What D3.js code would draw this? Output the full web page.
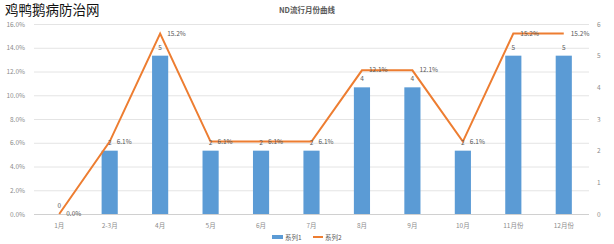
<!DOCTYPE html>
<html>
<head>
<meta charset="utf-8">
<script src="https://cdn.jsdelivr.net/npm/d3@7"></script>
<style>
    body { margin: 0; background: #fff; }
    text { font-family: "Noto Sans CJK SC", "Noto Sans", sans-serif; }
</style>
</head>
<body>
<div id="chart"></div>
<script>
const months = ["1月", "2-3月", "4月", "5月", "6月", "7月", "8月", "9月", "10月", "11月份", "12月份"];
const counts = [0, 2, 5, 2, 2, 2, 4, 4, 2, 5, 5];
const percents = [0, 6.1, 15.2, 6.1, 6.1, 6.1, 12.1, 12.1, 6.1, 15.2, 15.2];
const leftTicks = [0, 2, 4, 6, 8, 10, 12, 14, 16];
const rightTicks = [0, 1, 2, 3, 4, 5, 6];
const seriesNames = ["系列1", "系列2"];

const width = 614, height = 244;
const plotTop = 24, plotBottom = 214, plotLeft = 34, plotRight = 589;

const svg = d3.select("#chart")
    .append("svg")
    .attr("width", width)
    .attr("height", height);

const x = d3.scaleBand()
    .domain(months)
    .range([plotLeft, plotRight])
    .paddingInner(0.68)
    .paddingOuter(0.34);

const yLeft = d3.scaleLinear().domain([0, 16]).range([plotBottom, plotTop]);
const yRight = d3.scaleLinear().domain([0, 6]).range([plotBottom, plotTop]);

// gridlines
svg.append("g")
    .selectAll("line")
    .data(leftTicks)
    .enter()
    .append("line")
    .attr("x1", plotLeft)
    .attr("x2", plotRight)
    .attr("y1", d => yLeft(d) + 0.5)
    .attr("y2", d => yLeft(d) + 0.5)
    .attr("stroke", d => d === 0 ? "#d0d0d0" : "#e4e4e4")
    .attr("stroke-width", 1);

// left axis
const axisL = svg.append("g")
    .attr("transform", `translate(${plotLeft - 6},0)`)
    .call(d3.axisLeft(yLeft).tickValues(leftTicks).tickSize(0).tickFormat(d => d.toFixed(1) + "%"));
axisL.select(".domain").remove();
axisL.selectAll("text").attr("font-size", 6.5).attr("fill", "#8c8c8c");

// right axis
const axisR = svg.append("g")
    .attr("transform", `translate(${plotRight + 5},0)`)
    .call(d3.axisRight(yRight).tickValues(rightTicks).tickSize(0).tickFormat(d3.format("d")));
axisR.select(".domain").remove();
axisR.selectAll("text").attr("font-size", 6.5).attr("fill", "#8c8c8c");

// bottom axis
const axisB = svg.append("g")
    .attr("transform", `translate(0,${plotBottom + 6})`)
    .call(d3.axisBottom(x).tickSize(0));
axisB.select(".domain").remove();
axisB.selectAll("text").attr("font-size", 6.5).attr("fill", "#8c8c8c");

// bars
svg.append("g")
    .selectAll("rect")
    .data(counts)
    .enter()
    .append("rect")
    .attr("x", (d, i) => x(months[i]))
    .attr("y", d => yRight(d))
    .attr("width", x.bandwidth())
    .attr("height", d => plotBottom - yRight(d))
    .attr("fill", "#5b9bd5");

// line
const line = d3.line()
    .x((d, i) => x(months[i]) + x.bandwidth() / 2)
    .y(d => yLeft(d));

svg.append("path")
    .datum(percents)
    .attr("fill", "none")
    .attr("stroke", "#ed7d31")
    .attr("stroke-width", 2)
    .attr("d", line);

// bar labels
svg.append("g")
    .selectAll("text")
    .data(counts)
    .enter()
    .append("text")
    .attr("x", (d, i) => x(months[i]) + x.bandwidth() / 2)
    .attr("y", d => yRight(d) - 6)
    .attr("text-anchor", "middle")
    .attr("font-size", 6.5)
    .attr("fill", "#595959")
    .text(d => d);

// line labels
svg.append("g")
    .selectAll("text")
    .data(percents)
    .enter()
    .append("text")
    .attr("x", (d, i) => x(months[i]) + x.bandwidth() / 2 + 7)
    .attr("y", d => yLeft(d) + 2)
    .attr("font-size", 6.5)
    .attr("fill", "#595959")
    .text(d => d.toFixed(1) + "%");

// title
svg.append("text")
    .attr("x", 307)
    .attr("y", 13)
    .attr("text-anchor", "middle")
    .attr("font-size", 7.5)
    .attr("font-weight", "bold")
    .attr("fill", "#595959")
    .text("ND流行月份曲线");

// watermark
svg.append("text")
    .attr("x", 5)
    .attr("y", 15)
    .attr("font-size", 13.5)
    .attr("fill", "#111")
    .text("鸡鸭鹅病防治网");

// legend
const legend = svg.append("g").attr("transform", "translate(0,238)");
legend.append("rect")
    .attr("x", 272).attr("y", -3)
    .attr("width", 11).attr("height", 4)
    .attr("fill", "#5b9bd5");
legend.append("text")
    .attr("x", 285).attr("y", 1.5)
    .attr("font-size", 6.5).attr("fill", "#595959")
    .text(seriesNames[0]);
legend.append("line")
    .attr("x1", 313).attr("x2", 323)
    .attr("y1", -1).attr("y2", -1)
    .attr("stroke", "#ed7d31").attr("stroke-width", 2);
legend.append("text")
    .attr("x", 325).attr("y", 1.5)
    .attr("font-size", 6.5).attr("fill", "#595959")
    .text(seriesNames[1]);
</script>
</body>
</html>
